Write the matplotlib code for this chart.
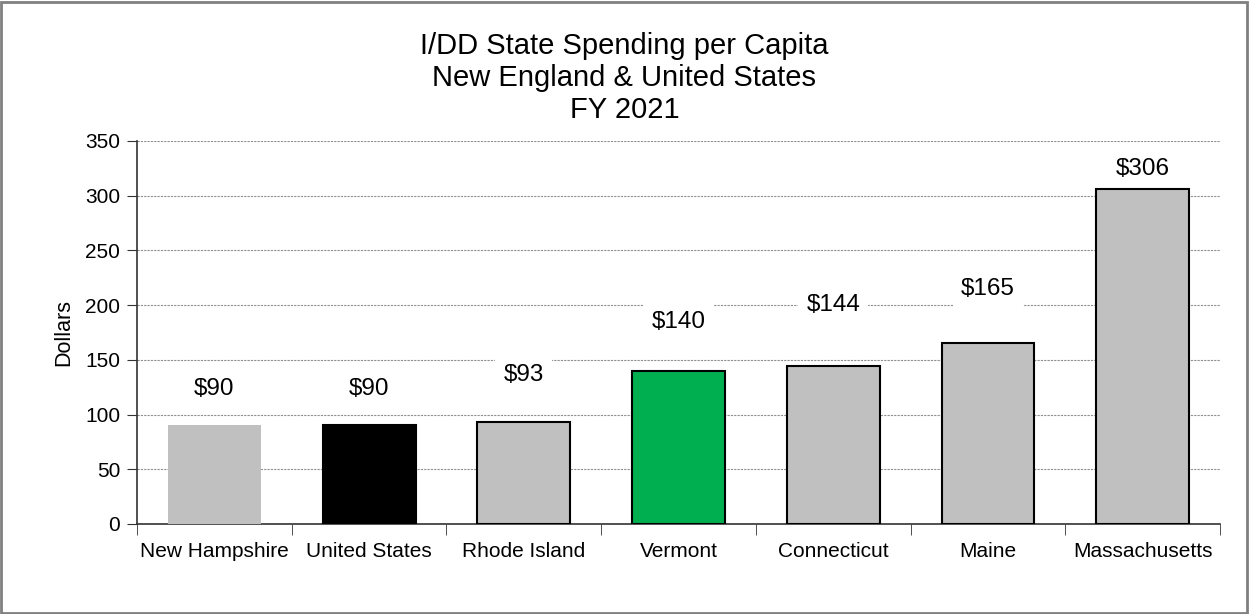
import matplotlib.pyplot as plt
from matplotlib.patches import Rectangle

plt.rcParams['font.family'] = ['Liberation Sans', 'DejaVu Sans']

states = ['New Hampshire', 'United States', 'Rhode Island', 'Vermont',
          'Connecticut', 'Maine', 'Massachusetts']
spending = [90, 90, 93, 140, 144, 165, 306]
labels = ['$90', '$90', '$93', '$140', '$144', '$165', '$306']
# where the value labels sit (data units), placed by hand in the original
label_y = [123, 123, 136, 185, 200, 215, 324]
colors = ['#C0C0C0', '#000000', '#C0C0C0', '#00B050', '#C0C0C0', '#C0C0C0', '#C0C0C0']
edges = ['none', 'black', 'black', 'black', 'black', 'black', 'black']

fig = plt.figure(figsize=(12.49, 6.14), dpi=100)
ax = fig.add_axes([0.1097, 0.1466, 0.8671, 0.6238])

x = list(range(len(states)))
ax.bar(x, spending, width=0.6, color=colors, edgecolor=edges, linewidth=1.5, zorder=3)

# labels sit under the bars so their white boxes only hide gridlines
for i in x:
    ax.text(i, label_y[i], labels[i], ha='center', va='center', fontsize=17.5, zorder=2,
            bbox=dict(facecolor='white', edgecolor='none', pad=6))

ax.set_xlim(-0.5, len(states) - 0.5)
ax.set_ylim(0, 350)
ax.set_yticks(range(0, 351, 50))
ax.tick_params(axis='y', labelsize=15, length=7, direction='out', color='#333333', pad=5)
ax.set_xticks(x)
ax.set_xticklabels(states, fontsize=15)
ax.tick_params(axis='x', which='major', length=0, pad=13)
ax.set_xticks([i + 0.5 for i in range(-1, len(states))], minor=True)
ax.tick_params(axis='x', which='minor', length=8, direction='out', color='#333333')

ax.yaxis.grid(True, linestyle=(0, (2, 1)), color='#909090', linewidth=0.8, zorder=0)
ax.set_axisbelow(True)
for s in ['top', 'right']:
    ax.spines[s].set_visible(False)
for s in ['left', 'bottom']:
    ax.spines[s].set_color('#333333')
    ax.spines[s].set_linewidth(1.2)

ax.set_ylabel('Dollars', fontsize=15.5, labelpad=8)
fig.text(0.5, 0.873, 'I/DD State Spending per Capita\nNew England & United States\nFY 2021',
         ha='center', va='center', fontsize=21, linespacing=1.2)

fig.patches.append(Rectangle((0.001, 0.002), 0.997, 0.995, transform=fig.transFigure,
                             fill=False, edgecolor='#808080', linewidth=2))

plt.savefig('out.png', dpi=100)
